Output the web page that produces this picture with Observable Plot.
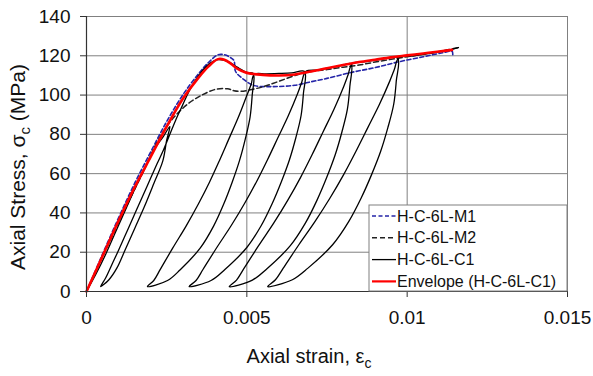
<!DOCTYPE html>
<html><head><meta charset="utf-8">
<script src="https://cdn.jsdelivr.net/npm/d3@7"></script>
<script src="https://cdn.jsdelivr.net/npm/@observablehq/plot@0.6"></script>
<style>body{margin:0;background:#fff}svg{display:block}</style>
</head><body><div id="chart"></div>
<script>
// ---- tick values / labels ----
const xTicks = [0, 0.005, 0.01, 0.015];
const xTickLabels = ["0", "0.005", "0.01", "0.015"];
const yTicks = [0, 20, 40, 60, 80, 100, 120, 140];
const seriesNames = ["H-C-6L-M1", "H-C-6L-M2", "H-C-6L-C1", "Envelope (H-C-6L-C1)"];

// ---- series: [axial strain, axial stress (MPa)] ----
const m1 = [[0,0],[0.0005,19],[0.001,37.5],[0.0015,55],[0.002,71],[0.0025,86.5],[0.003,100],[0.0035,111],[0.0038,116.5],[0.0041,120.5],[0.0043,120.5],[0.0045,119],[0.0046,117.5],[0.00465,112],[0.0049,108],[0.0052,105],[0.0058,104.3],[0.0065,105],[0.0069,106.4],[0.0075,108.5],[0.00825,111.5],[0.009,114],[0.0097,116.8],[0.0105,119.5],[0.0111,121.5],[0.0114,122.3],[0.01142,120]];

const m2 = [[0,0],[0.0005,17.5],[0.001,35],[0.0015,52],[0.0018,62],[0.0022,76],[0.0025,84],[0.0028,90],[0.0032,96],[0.0036,100],[0.004,102.8],[0.0044,103.2],[0.0046,102.2],[0.0048,101.9],[0.0052,103],[0.0056,104.7],[0.006,107],[0.0066,110.5],[0.007,112],[0.0075,113],[0.008,114.2],[0.0085,115.3],[0.009,116.8],[0.0095,118.2],[0.01,119.5],[0.0105,120.8],[0.011,122.2],[0.0116,124.2]];

const c1 = [
 [0,0],[0.0003,9],[0.0006,19],[0.0009,30],[0.0012,41],[0.0015,52],[0.0018,62],[0.0021,72],[0.0024,79],[0.0026,84],
 [0.0025,77],[0.00238,66.5],[0.0021,55],[0.0018,43],[0.0015,32],[0.0012,21],[0.00095,12],[0.0007,6],[0.00044,2.5],
 [0.0006,7],[0.0008,14],[0.001,21],[0.0013,32],[0.0016,43],[0.0019,54],[0.0022,65],[0.0024,72],[0.0026,80],[0.0028,88],[0.003,95],[0.0032,102],[0.0035,110],[0.0038,115.5],[0.0041,118],[0.0044,117.2],[0.0047,114.2],[0.005,111.6],[0.0052,111],
 [0.005167,99.9],[0.005101,88.8],[0.004953,77.7],[0.004771,66.6],[0.00454,55.5],[0.004276,44.4],[0.003963,33.3],[0.00355,22.2],[0.002923,11.1],[0.002527,5.6],[0.0019,2.5],
 [0.002098,5.6],[0.002296,11.1],[0.002692,22.2],[0.003105,33.3],[0.003484,44.4],[0.003831,55.5],[0.004144,66.6],[0.004441,77.7],[0.004738,88.8],[0.005002,99.9],[0.005135,105.5],[0.005233,110.6],[0.0056,110.8],[0.006,111],[0.0064,111.3],[0.0068,112],
 [0.006764,100.8],[0.006692,89.6],[0.00653,78.4],[0.006332,67.2],[0.00608,56],[0.005792,44.8],[0.00545,33.6],[0.005,22.4],[0.004316,11.2],[0.003884,5.6],[0.0032,2.5],
 [0.003416,5.6],[0.003632,11.2],[0.004064,22.4],[0.004514,33.6],[0.004928,44.8],[0.005306,56],[0.005648,67.2],[0.005972,78.4],[0.006296,89.6],[0.006584,100.8],[0.00671,106.4],[0.006836,112],[0.0072,112.8],[0.0076,114],[0.008,115.2],[0.00825,116],
 [0.008212,104.4],[0.008136,92.8],[0.007965,81.2],[0.007756,69.6],[0.00749,58],[0.007186,46.4],[0.006825,34.8],[0.00635,23.2],[0.005628,11.6],[0.005172,5.8],[0.00445,2.5],
 [0.004678,5.8],[0.004906,11.6],[0.005362,23.2],[0.005837,34.8],[0.006274,46.4],[0.006673,58],[0.007034,69.6],[0.007376,81.2],[0.007718,92.8],[0.008022,104.4],[0.008155,110.2],[0.008288,116],[0.0087,117],[0.0092,118.2],[0.0097,119],
 [0.00966,107.1],[0.009579,95.2],[0.009396,83.3],[0.009174,71.4],[0.00889,59.5],[0.008566,47.6],[0.008181,35.7],[0.007675,23.8],[0.006906,11.9],[0.00642,6],[0.00565,2.5],
 [0.005893,6],[0.006136,11.9],[0.006622,23.8],[0.007128,35.7],[0.007594,47.6],[0.008019,59.5],[0.008404,71.4],[0.008769,83.3],[0.009133,95.2],[0.009457,107.1],[0.009599,113],[0.009741,119],[0.0102,120],[0.0107,121.2],[0.0112,122.6],[0.0116,124.2]
];

const envelope = [[0,0],[0.0005,18],[0.001,36],[0.0015,53],[0.002,68.5],[0.0025,84],[0.003,98],[0.0035,109],[0.0038,114.5],[0.0041,118.3],[0.0043,118],[0.0045,116],[0.0047,113.5],[0.005,111.3],[0.0055,110.3],[0.006,110],[0.0065,110.5],[0.007,112],[0.0075,113.7],[0.008,115.3],[0.0085,116.8],[0.009,118],[0.0095,119.2],[0.01,120.2],[0.0105,121.2],[0.011,122.2],[0.0114,123]];

// ---- styles ----
const styles = [
  {stroke: "#2424a8", strokeWidth: 1.6, dash: "4,2.5"},
  {stroke: "#222222", strokeWidth: 1.5, dash: "5,3"},
  {stroke: "#000000", strokeWidth: 1.3, dash: null},
  {stroke: "#ff0000", strokeWidth: 2.6, dash: null}
];
const seriesData = [m1, m2, c1, envelope];
const rows = (pts) => pts.map(([strain, stress]) => ({strain, stress}));

const W = 593, H = 376, mL = 86, mR = 26, mT = 16, mB = 85;
const FONT = "'Liberation Sans', Arial, sans-serif";

const lineMarks = seriesData.map((pts, i) => Plot.line(rows(pts), {
  x: "strain", y: "stress",
  stroke: styles[i].stroke, strokeWidth: styles[i].strokeWidth,
  strokeDasharray: styles[i].dash || undefined,
  strokeLinejoin: "round",
  curve: "catmull-rom"
}));

const chart = Plot.plot({
  width: W, height: H,
  marginLeft: mL, marginRight: mR, marginTop: mT, marginBottom: mB,
  style: {fontFamily: FONT, background: "#fff", color: "#111"},
  x: {domain: [0, 0.015]},
  y: {domain: [0, 140]},
  marks: [
    Plot.gridY(yTicks, {stroke: "#808080", strokeOpacity: 1, strokeWidth: 1}),
    Plot.gridX(xTicks, {stroke: "#808080", strokeOpacity: 1, strokeWidth: 1}),
    Plot.frame({stroke: "#808080", strokeWidth: 1}),
    ...lineMarks,
    Plot.ruleX([0], {stroke: "#333", strokeWidth: 1.2}),
    Plot.ruleY([0], {stroke: "#333", strokeWidth: 1.2}),
    Plot.axisX(xTicks, {tickFormat: d => xTickLabels[xTicks.indexOf(d)], tickSize: 6, tickPadding: 13, fontSize: 19, label: null, stroke: "#333"}),
    Plot.axisY(yTicks, {tickSize: 6, tickPadding: 10, fontSize: 19, label: null, stroke: "#333"})
  ]
});
document.getElementById("chart").appendChild(chart);

const svg = d3.select(chart);
// axis titles
const yt = svg.append("text")
  .attr("transform", `translate(25,167) rotate(-90)`)
  .attr("text-anchor", "middle").attr("font-size", 21).attr("fill", "#111").attr("font-family", FONT);
yt.append("tspan").text("Axial Stress, σ");
yt.append("tspan").attr("dy", 5).attr("font-size", 15).text("c");
yt.append("tspan").attr("dy", -5).text(" (MPa)");

const xt = svg.append("text")
  .attr("x", 309).attr("y", 363)
  .attr("text-anchor", "middle").attr("font-size", 20).attr("fill", "#111").attr("font-family", FONT);
xt.append("tspan").text("Axial strain, ε");
xt.append("tspan").attr("dy", 5).attr("font-size", 14).text("c");

// legend (inside plot, bottom-right)
const lgW = 198, lgH = 86;
const lgX = W - mR - lgW, lgY = H - mB - lgH;
const lg = svg.append("g").attr("transform", `translate(${lgX},${lgY})`);
lg.append("rect").attr("width", lgW).attr("height", lgH).attr("fill", "#fff").attr("stroke", "#808080");
seriesNames.forEach((name, i) => {
  const cy = 11 + i * 21.8;
  lg.append("line").attr("x1", 3).attr("x2", 27).attr("y1", cy).attr("y2", cy)
    .attr("stroke", styles[i].stroke).attr("stroke-width", Math.min(styles[i].strokeWidth, 2.2))
    .attr("stroke-dasharray", styles[i].dash);
  lg.append("text").attr("x", 28).attr("y", cy).attr("dy", "0.35em")
    .attr("text-anchor", "start")
    .attr("font-size", 16).attr("fill", "#111").attr("font-family", FONT).text(name);
});
</script>
</body></html>
